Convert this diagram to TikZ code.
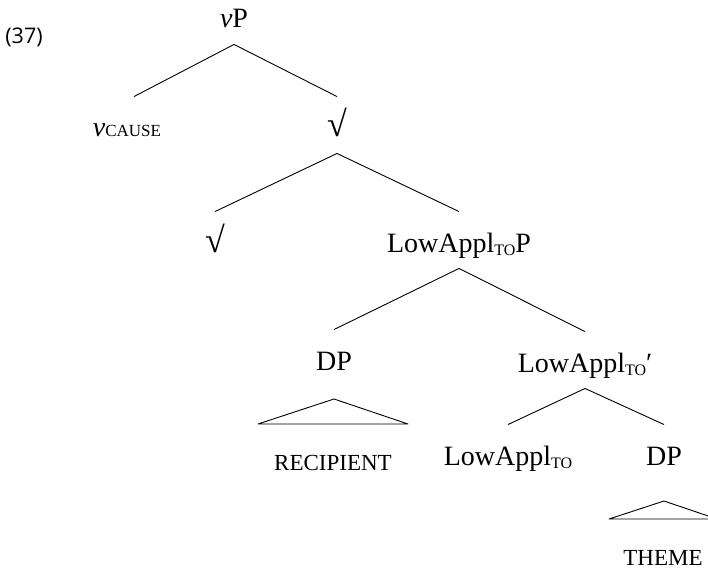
\documentclass[tikz,border=0pt]{standalone}
\usepackage{fontspec}
\setmainfont{Liberation Serif}
\newfontfamily\exfont{Open Sans}
\usetikzlibrary{calc}

% small-capital style subscripts and leaf labels
\newcommand\lowsub[1]{\raisebox{-3pt}{\fontsize{16}{16}\selectfont #1}}
\newcommand\causesub[1]{{\fontsize{17}{17}\selectfont #1}}
\newcommand\rootsym{{\fontsize{36}{36}\selectfont √}}

\begin{document}
\begin{tikzpicture}[x=1pt,y=-1pt,
  every path/.style={line width=0.9pt, line join=round},
  lbl/.style={anchor=base, font=\fontsize{28}{30}\selectfont,
              text height=24pt, text depth=0pt, inner xsep=0pt, inner ysep=16pt},
  leaf/.style={anchor=base, font=\fontsize{23}{25}\selectfont, inner sep=0pt},
  exnum/.style={anchor=base, font=\exfont\fontsize{21.5}{23}\selectfont, inner sep=0pt}]
\useasboundingbox (0,0) rectangle (708,569);

% example number
\node[exnum] (ex) at (24,44) {(37)};

% tree labels
\node[lbl] (vp)     at (234,28)  {\textit{v}P};
\node[lbl] (vcause) at (127,137) {\textit{v}\causesub{CAUSE}};
\node[lbl] (rootA)  at (337,137) {\rootsym};
\node[lbl] (rootB)  at (215,252) {\rootsym};
\node[lbl] (lap)    at (459,252) {LowAppl\lowsub{TO}P};
\node[lbl] (dpa)    at (334,370) {DP};
\node[lbl] (lapbar) at (585,372) {LowAppl\lowsub{TO}′};
\node[lbl] (la)     at (508,465) {LowAppl\lowsub{TO}};
\node[lbl] (dpb)    at (664,465) {DP};
\node[leaf] (recip) at (333,470) {RECIPIENT};
\node[leaf] (theme) at (663,565) {THEME};

% branches
\draw (vp.south) -- ([xshift=7pt]vcause.north);
\draw (vp.south) -- (rootA.north);
\draw (rootA.south) -- (rootB.north);
\draw (rootA.south) -- (lap.north);
\draw (lap.south) -- (dpa.north);
\draw (lap.south) -- (lapbar.north);
\draw (lapbar.south) -- (la.north);
\draw (lapbar.south) -- (dpb.north);

% triangles over unanalysed phrases
\draw ($(dpa.base)+(0,29)$) -- ($(recip.base)+(-75,-46)$)
      -- ($(recip.base)+(75,-46)$) -- cycle;
\draw ($(dpb.base)+(0,36)$) -- ($(theme.base)+(-54,-46)$)
      -- ($(theme.base)+(54,-46)$) -- cycle;
\end{tikzpicture}
\end{document}
